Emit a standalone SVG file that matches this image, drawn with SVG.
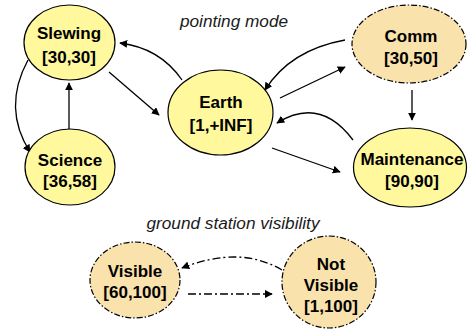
<svg xmlns="http://www.w3.org/2000/svg" width="469" height="333" viewBox="0 0 469 333">
  <style>
    .st { stroke: #000; stroke-width: 1.2; }
    .yel { fill: #FFF89C; }
    .tan { fill: #F9E2AC; stroke-dasharray: 6 2 1.5 2; }
    .lbl { font-family: "Liberation Sans", Arial, sans-serif; font-weight: bold; font-size: 17px; text-anchor: middle; fill: #000; }
    .cap { font-family: "Liberation Sans", Arial, sans-serif; font-style: italic; font-size: 16px; text-anchor: middle; fill: #1a1a1a; }
    .edge { fill: none; stroke: #000; stroke-width: 1.3; marker-end: url(#arrow); }
    .dd { stroke-dasharray: 8 3 2 3; }
  </style>
  <defs>
    <marker id="arrow" viewBox="0 0 10 10" refX="9" refY="5" markerWidth="8" markerHeight="8" markerUnits="userSpaceOnUse" orient="auto">
      <path d="M0,0 L10,5 L0,10 Z" fill="#000"/>
    </marker>
  </defs>
  <rect width="469" height="333" fill="#fff"/>

  <text class="cap" x="234" y="27" textLength="108" lengthAdjust="spacingAndGlyphs">pointing mode</text>
  <text class="cap" x="233" y="229" textLength="173" lengthAdjust="spacingAndGlyphs">ground station visibility</text>

  <g id="connectors">
    <!-- pointing mode transitions -->
    <path class="edge" d="M182,80 Q160,48 120,43"/>
    <path class="edge" d="M109,72 L159,115"/>
    <path class="edge" d="M28,60 Q2,108 30,152"/>
    <path class="edge" d="M69,130 L69,83"/>
    <path class="edge" d="M345,40 Q290,50 265,90"/>
    <path class="edge" d="M280,98 L345,67"/>
    <path class="edge" d="M412,90 L412,120"/>
    <path class="edge" d="M353,140 Q320,96 277,123"/>
    <path class="edge" d="M272,148 L340,172"/>
    <!-- visibility transitions -->
    <path class="edge dd" d="M282,270 Q240,245 182,268"/>
    <path class="edge dd" d="M188,294 L272,294"/>
  </g>

  <g id="slewing">
    <ellipse class="st yel" cx="69.5" cy="42.5" rx="45.5" ry="37.5"/>
    <text class="lbl" x="69" y="39">Slewing</text>
    <text class="lbl" x="69" y="63">[30,30]</text>
  </g>
  <g id="science">
    <ellipse class="st yel" cx="70" cy="167" rx="45" ry="38"/>
    <text class="lbl" x="70" y="166">Science</text>
    <text class="lbl" x="70" y="187">[36,58]</text>
  </g>
  <g id="earth">
    <ellipse class="st yel" cx="220.5" cy="112.5" rx="52.5" ry="42.5"/>
    <text class="lbl" x="221" y="108">Earth</text>
    <text class="lbl" x="221" y="131">[1,+INF]</text>
  </g>
  <g id="comm">
    <ellipse class="st tan" cx="409" cy="44" rx="57" ry="39"/>
    <text class="lbl" x="411" y="42">Comm</text>
    <text class="lbl" x="411" y="64">[30,50]</text>
  </g>
  <g id="maintenance">
    <ellipse class="st yel" cx="410" cy="167.5" rx="56.5" ry="39.5"/>
    <text class="lbl" x="412" y="165">Maintenance</text>
    <text class="lbl" x="412" y="187">[90,90]</text>
  </g>
  <g id="visible">
    <ellipse class="st tan" cx="135" cy="280" rx="45" ry="38"/>
    <text class="lbl" x="135" y="277">Visible</text>
    <text class="lbl" x="135" y="298">[60,100]</text>
  </g>
  <g id="not-visible">
    <ellipse class="st tan" cx="329" cy="282" rx="47" ry="46"/>
    <text class="lbl" x="331" y="270">Not</text>
    <text class="lbl" x="331" y="291">Visible</text>
    <text class="lbl" x="331" y="312">[1,100]</text>
  </g>
</svg>
